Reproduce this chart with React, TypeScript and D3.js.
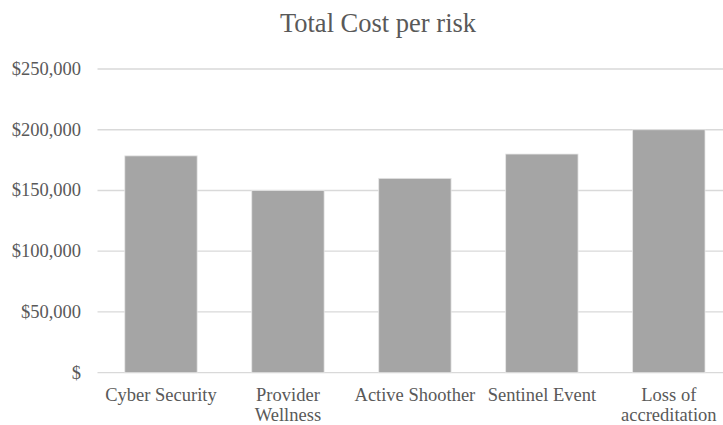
import React from "react";
import * as d3 from "d3";

const title = "Total Cost per risk";
const categories = ["Cyber Security", "Provider Wellness", "Active Shoother", "Sentinel Event", "Loss of accreditation"];
const categoryLines = [["Cyber Security"], ["Provider", "Wellness"], ["Active Shoother"], ["Sentinel Event"], ["Loss of", "accreditation"]];
const values = [178500, 150000, 160000, 180000, 200000];
const yTicks = [0, 50000, 100000, 150000, 200000, 250000];

const W = 723;
const H = 425;
const FONT = "'Liberation Serif', 'Times New Roman', serif";

export default function App() {
  const x = d3.scaleBand<string>().domain(categories).range([97.5, 732.3]).paddingInner(0.43).paddingOuter(0.215);
  const y = d3.scaleLinear().domain([0, 250000]).range([372.7, 69]);
  const fmt = d3.format(",");
  const tickLabel = (v: number) => (v === 0 ? "$" : "$" + fmt(v));

  return (
    <svg width={W} height={H} style={{ position: "absolute", left: 0, top: 0, background: "#fff" }}>
      <rect x={0} y={0} width={W} height={H} fill="#fff" />
      <text x={378} y={32} textAnchor="middle" fontFamily={FONT} fontSize={26.5} fill="#595959">{title}</text>
      {yTicks.map((t) => (
        <g key={t}>
          <line x1={97.5} x2={732.3} y1={y(t)} y2={y(t)} stroke="#d9d9d9" strokeWidth={1.3} />
          <text x={81} y={y(t) + 6} textAnchor="end" fontFamily={FONT} fontSize={18.5} fill="#595959">{tickLabel(t)}</text>
        </g>
      ))}
      {categories.map((c, i) => (
        <rect key={c} x={x(c)} y={y(values[i])} width={x.bandwidth()} height={y(0) - y(values[i])} fill="#a5a5a5" stroke="#e6e6e6" strokeWidth={0.8} />
      ))}
      {categories.map((c, i) => (
        <text key={c} x={(x(c) as number) + x.bandwidth() / 2} textAnchor="middle" fontFamily={FONT} fontSize={18.5} fill="#595959">
          {categoryLines[i].map((ln, j) => (
            <tspan key={j} x={(x(c) as number) + x.bandwidth() / 2} y={401 + j * 20}>{ln}</tspan>
          ))}
        </text>
      ))}
    </svg>
  );
}
